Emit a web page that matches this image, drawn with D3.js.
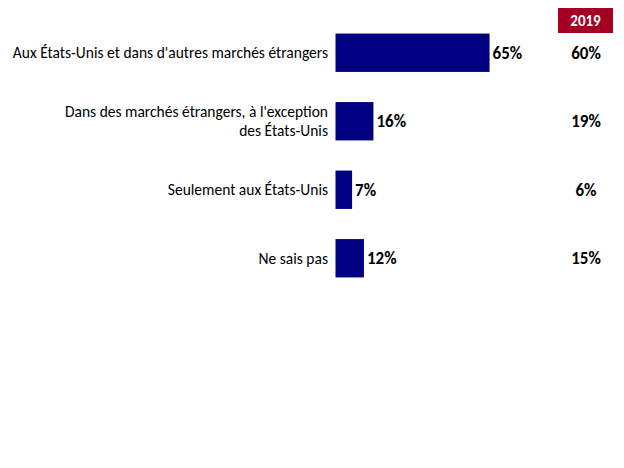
<!DOCTYPE html>
<html><head><meta charset="utf-8">
<script src="https://cdn.jsdelivr.net/npm/d3@7"></script>
<style>body{margin:0;background:#fff}svg{display:block}</style>
</head><body>
<svg id="c" width="624" height="468"></svg>
<script>
const categories = [
  ["Aux États-Unis et dans d'autres marchés étrangers"],
  ["Dans des marchés étrangers, à l'exception", "des États-Unis"],
  ["Seulement aux États-Unis"],
  ["Ne sais pas"]
];
const values2021 = [65, 16, 7, 12];
const values2019 = [60, 19, 6, 15];
const yearLabel = "2019";

const svg = d3.select("#c");
const font = "Carlito, Calibri, Lato, sans-serif";
const x = d3.scaleLinear().domain([0, 100]).range([335.5, 572.5]);
const y = d3.scaleBand().domain(d3.range(categories.length)).range([18.5, 292.5]).paddingInner(0.44).paddingOuter(0.22);

svg.selectAll("rect.bar").data(values2021).join("rect")
  .attr("class","bar")
  .attr("x", x(0)).attr("y", (d,i)=>y(i))
  .attr("width", d=>x(d)-x(0)).attr("height", y.bandwidth())
  .attr("fill", "#000080");

svg.selectAll("text.val").data(values2021).join("text")
  .attr("class","val")
  .attr("x", d=>x(d)+3).attr("y", (d,i)=>y(i)+y.bandwidth()/2)
  .attr("dy","0.35em")
  .attr("font-family", font).attr("font-size", 17).attr("font-weight","bold")
  .attr("fill","#000")
  .text(d=>d+"%");

const lab = svg.selectAll("text.lab").data(categories).join("text")
  .attr("class","lab")
  .attr("text-anchor","end")
  .attr("font-family", font).attr("font-size", 15.5).attr("fill","#000");
lab.each(function(lines,i){
  const t = d3.select(this);
  const cy = y(i)+y.bandwidth()/2;
  const lh = 19;
  lines.forEach((s,k)=>{
    t.append("tspan").attr("x", 328)
     .attr("y", cy + (k-(lines.length-1)/2)*lh)
     .attr("dy","0.35em").text(s);
  });
});

svg.append("rect").attr("x",558).attr("y",8).attr("width",55).attr("height",25).attr("fill","#A50021");
svg.append("text").attr("x",585.5).attr("y",20.5).attr("dy","0.35em").attr("text-anchor","middle")
  .attr("font-family", font).attr("font-size",15).attr("font-weight","bold").attr("fill","#fff").text(yearLabel);

svg.selectAll("text.v19").data(values2019).join("text")
  .attr("class","v19")
  .attr("x", 586).attr("y", (d,i)=>y(i)+y.bandwidth()/2)
  .attr("dy","0.35em").attr("text-anchor","middle")
  .attr("font-family", font).attr("font-size", 17).attr("font-weight","bold").attr("fill","#000")
  .text(d=>d+"%");
</script>
</body></html>
